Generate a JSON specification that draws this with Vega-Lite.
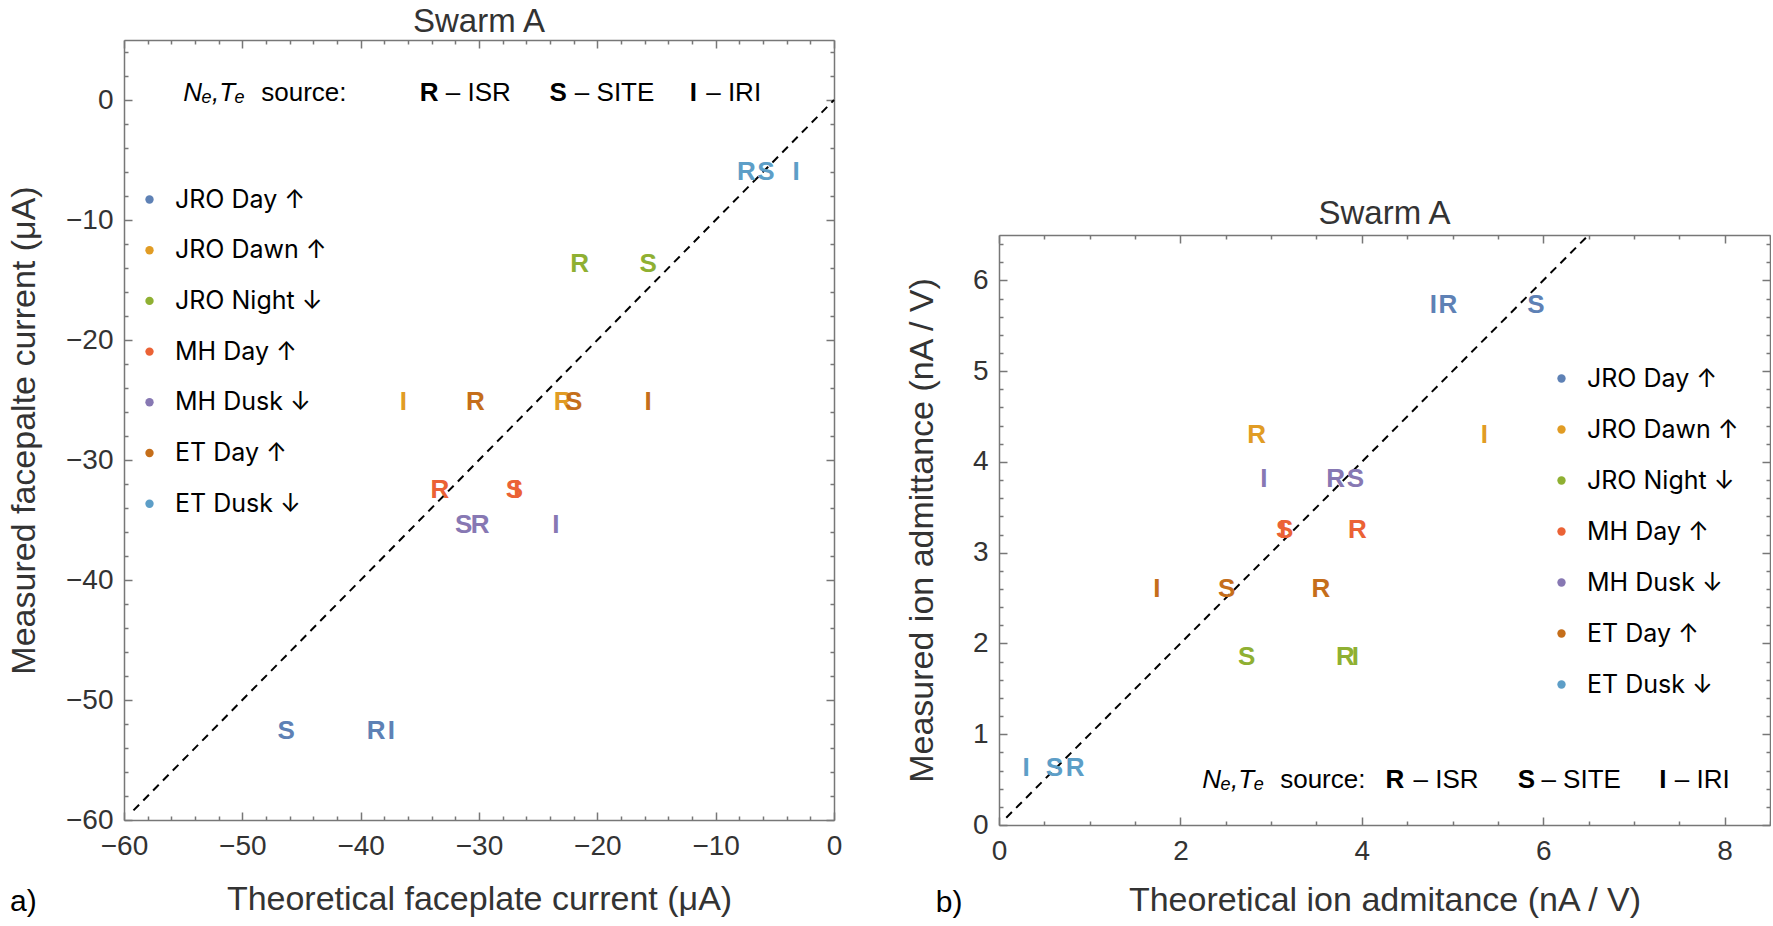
{
  "$schema": "https://vega.github.io/schema/vega-lite/v6.json",
  "background": "white",
  "padding": {"left": 7, "top": 6, "right": 0, "bottom": 0},
  "config": {
    "view": {"stroke": null},
    "axis": {"labelFont": "Liberation Sans", "titleFont": "Liberation Sans", "labelColor": "#333", "titleColor": "#333", "grid": false, "domainColor": "#777", "domainWidth": 1.5, "tickColor": "#777", "tickWidth": 1.5, "labelFontSize": 28, "titleFontSize": 34, "titleFontWeight": "normal", "labelOverlap": false, "labelFlush": false, "labelBound": false},
    "title": {"font": "Liberation Sans", "fontSize": 33, "fontWeight": "normal", "color": "#333", "offset": -1.3}
  },
  "datasets": {
    "faceplate": [
      {"series": "JRO Day ↑", "src": "R", "x": -38.7, "y": -52.6},
      {"series": "JRO Day ↑", "src": "S", "x": -46.3, "y": -52.6},
      {"series": "JRO Day ↑", "src": "I", "x": -37.4, "y": -52.6},
      {"series": "JRO Dawn ↑", "src": "R", "x": -22.9, "y": -25.2},
      {"series": "JRO Dawn ↑", "src": "I", "x": -36.4, "y": -25.2},
      {"series": "JRO Night ↓", "src": "R", "x": -21.5, "y": -13.7},
      {"series": "JRO Night ↓", "src": "S", "x": -15.7, "y": -13.7},
      {"series": "MH Day ↑", "src": "R", "x": -33.3, "y": -32.5},
      {"series": "MH Day ↑", "src": "S", "x": -27.0, "y": -32.5},
      {"series": "MH Day ↑", "src": "I", "x": -26.8, "y": -32.5},
      {"series": "MH Dusk ↓", "src": "R", "x": -29.9, "y": -35.4},
      {"series": "MH Dusk ↓", "src": "S", "x": -31.3, "y": -35.4},
      {"series": "MH Dusk ↓", "src": "I", "x": -23.5, "y": -35.4},
      {"series": "ET Day ↑", "src": "R", "x": -30.3, "y": -25.2},
      {"series": "ET Day ↑", "src": "S", "x": -22.0, "y": -25.2},
      {"series": "ET Day ↑", "src": "I", "x": -15.7, "y": -25.2},
      {"series": "ET Dusk ↓", "src": "R", "x": -7.4, "y": -6.0},
      {"series": "ET Dusk ↓", "src": "S", "x": -5.75, "y": -6.0},
      {"series": "ET Dusk ↓", "src": "I", "x": -3.2, "y": -6.0}
    ],
    "admittance": [
      {"series": "JRO Day ↑", "src": "R", "x": 4.95, "y": 5.73},
      {"series": "JRO Day ↑", "src": "S", "x": 5.92, "y": 5.73},
      {"series": "JRO Day ↑", "src": "I", "x": 4.79, "y": 5.73},
      {"series": "JRO Dawn ↑", "src": "R", "x": 2.84, "y": 4.30},
      {"series": "JRO Dawn ↑", "src": "I", "x": 5.35, "y": 4.30},
      {"series": "JRO Night ↓", "src": "R", "x": 3.82, "y": 1.85},
      {"series": "JRO Night ↓", "src": "S", "x": 2.73, "y": 1.85},
      {"series": "JRO Night ↓", "src": "I", "x": 3.93, "y": 1.85},
      {"series": "MH Day ↑", "src": "R", "x": 3.95, "y": 3.25},
      {"series": "MH Day ↑", "src": "S", "x": 3.15, "y": 3.25},
      {"series": "MH Day ↑", "src": "I", "x": 3.13, "y": 3.25},
      {"series": "MH Dusk ↓", "src": "R", "x": 3.71, "y": 3.81},
      {"series": "MH Dusk ↓", "src": "S", "x": 3.93, "y": 3.81},
      {"series": "MH Dusk ↓", "src": "I", "x": 2.92, "y": 3.81},
      {"series": "ET Day ↑", "src": "R", "x": 3.55, "y": 2.60},
      {"series": "ET Day ↑", "src": "S", "x": 2.51, "y": 2.60},
      {"series": "ET Day ↑", "src": "I", "x": 1.74, "y": 2.60},
      {"series": "ET Dusk ↓", "src": "R", "x": 0.84, "y": 0.63},
      {"series": "ET Dusk ↓", "src": "S", "x": 0.61, "y": 0.63},
      {"series": "ET Dusk ↓", "src": "I", "x": 0.30, "y": 0.63}
    ]
  },
  "hconcat": [
    {
      "width": 710,
      "height": 780,
      "title": {"text": "Swarm A"},
      "resolve": {"axis": {"x": "independent", "y": "independent"}},
      "layer": [
        {
          "data": {"values": [{"x": -59.2, "y": -59.2}, {"x": 0, "y": 0}]},
          "mark": {"type": "line", "color": "black", "strokeDash": [8, 6], "strokeWidth": 2},
          "encoding": {
            "x": {"field": "x", "type": "quantitative", "scale": {"domain": [-60, 0], "nice": false, "zero": false},
              "axis": {"orient": "bottom", "values": [-60,-58,-56,-54,-52,-50,-48,-46,-44,-42,-40,-38,-36,-34,-32,-30,-28,-26,-24,-22,-20,-18,-16,-14,-12,-10,-8,-6,-4,-2,0],
                "labelExpr": "datum.value % 10 === 0 ? format(datum.value, 'd') : ''",
                "tickSize": {"condition": {"test": "datum.value % 10 === 0", "value": -8}, "value": -4},
                "labelPadding": 20, "title": "Theoretical faceplate current (μA)", "titlePadding": 18}},
            "y": {"field": "y", "type": "quantitative", "scale": {"domain": [-60, 5], "nice": false, "zero": false},
              "axis": {"orient": "left", "values": [-60,-58,-56,-54,-52,-50,-48,-46,-44,-42,-40,-38,-36,-34,-32,-30,-28,-26,-24,-22,-20,-18,-16,-14,-12,-10,-8,-6,-4,-2,0,2,4],
                "labelExpr": "datum.value % 10 === 0 ? format(datum.value, 'd') : ''",
                "tickSize": {"condition": {"test": "datum.value % 10 === 0", "value": -8}, "value": -4},
                "labelPadding": 19, "title": "Measured facepalte current (μA)", "titlePadding": 24}}
          }
        },
        {
          "data": {"name": "faceplate"},
          "mark": {"type": "text", "font": "Liberation Sans", "fontWeight": "bold", "fontSize": 26},
          "encoding": {
            "x": {"field": "x", "type": "quantitative", "scale": {"domain": [-60, 0], "nice": false, "zero": false},
              "axis": {"orient": "top", "values": [-60,-58,-56,-54,-52,-50,-48,-46,-44,-42,-40,-38,-36,-34,-32,-30,-28,-26,-24,-22,-20,-18,-16,-14,-12,-10,-8,-6,-4,-2,0],
                "labels": false, "title": null,
                "tickSize": {"condition": {"test": "datum.value % 10 === 0", "value": -8}, "value": -4}}},
            "y": {"field": "y", "type": "quantitative", "scale": {"domain": [-60, 5], "nice": false, "zero": false},
              "axis": {"orient": "right", "values": [-60,-58,-56,-54,-52,-50,-48,-46,-44,-42,-40,-38,-36,-34,-32,-30,-28,-26,-24,-22,-20,-18,-16,-14,-12,-10,-8,-6,-4,-2,0,2,4],
                "labels": false, "title": null,
                "tickSize": {"condition": {"test": "datum.value % 10 === 0", "value": -8}, "value": -4}}},
            "text": {"field": "src", "type": "nominal"},
            "color": {"field": "series", "type": "nominal",
              "scale": {"domain": ["JRO Day ↑", "JRO Dawn ↑", "JRO Night ↓", "MH Day ↑", "MH Dusk ↓", "ET Day ↑", "ET Dusk ↓"],
                "range": ["#5E81B5", "#E19C24", "#8FB032", "#EB6235", "#8778B3", "#C56E1A", "#5D9EC7"]},
              "legend": {"orient": "none", "legendX": 13, "legendY": 147, "title": null, "padding": 0,
                "labelFont": "Inter", "labelFontSize": 25, "labelColor": "black", "labelLimit": 400,
                "symbolType": "circle", "symbolSize": 70, "symbolStrokeWidth": 0, "rowPadding": 24.7, "labelOffset": 13}}
          }
        },
        {
          "data": {"values": [{"t": "Nₑ,Tₑ", "x": -55.0, "y": 0.6}]},
          "mark": {"type": "text", "font": "Liberation Sans", "fontStyle": "italic", "fontSize": 26, "align": "left", "baseline": "middle", "color": "black"},
          "encoding": {
            "x": {"field": "x", "type": "quantitative", "scale": {"domain": [-60, 0], "nice": false, "zero": false}, "axis": null},
            "y": {"field": "y", "type": "quantitative", "scale": {"domain": [-60, 5], "nice": false, "zero": false}, "axis": null},
            "text": {"field": "t", "type": "nominal"}
          }
        },
        {
          "data": {"values": [
            {"t": "source:", "x": -48.4, "y": 0.6},
            {"t": "– ISR", "x": -32.8, "y": 0.6},
            {"t": "– SITE", "x": -21.9, "y": 0.6},
            {"t": "– IRI", "x": -10.8, "y": 0.6}
          ]},
          "mark": {"type": "text", "font": "Liberation Sans", "fontSize": 26, "align": "left", "baseline": "middle", "color": "black"},
          "encoding": {
            "x": {"field": "x", "type": "quantitative", "scale": {"domain": [-60, 0], "nice": false, "zero": false}, "axis": null},
            "y": {"field": "y", "type": "quantitative", "scale": {"domain": [-60, 5], "nice": false, "zero": false}, "axis": null},
            "text": {"field": "t", "type": "nominal"}
          }
        },
        {
          "data": {"values": [
            {"t": "R", "x": -35.0, "y": 0.6},
            {"t": "S", "x": -24.05, "y": 0.6},
            {"t": "I", "x": -12.2, "y": 0.6}
          ]},
          "mark": {"type": "text", "font": "Liberation Sans", "fontWeight": "bold", "fontSize": 26, "align": "left", "baseline": "middle", "color": "black"},
          "encoding": {
            "x": {"field": "x", "type": "quantitative", "scale": {"domain": [-60, 0], "nice": false, "zero": false}, "axis": null},
            "y": {"field": "y", "type": "quantitative", "scale": {"domain": [-60, 5], "nice": false, "zero": false}, "axis": null},
            "text": {"field": "t", "type": "nominal"}
          }
        },
        {
          "data": {"values": [{"t": "a)", "x": -68.5, "y": -66.8}]},
          "mark": {"type": "text", "font": "Liberation Sans", "fontSize": 30, "align": "center", "baseline": "middle", "color": "black"},
          "encoding": {
            "x": {"field": "x", "type": "quantitative", "scale": {"domain": [-60, 0], "nice": false, "zero": false}, "axis": null},
            "y": {"field": "y", "type": "quantitative", "scale": {"domain": [-60, 5], "nice": false, "zero": false}, "axis": null},
            "text": {"field": "t", "type": "nominal"}
          }
        }
      ]
    },
    {
      "spacing": 0,
      "vconcat": [
        {
          "width": 771,
          "height": 158,
          "data": {"values": [{}]},
          "mark": {"type": "text"}
        },
        {
          "width": 771,
          "height": 590,
          "title": {"text": "Swarm A"},
          "resolve": {"axis": {"x": "independent", "y": "independent"}},
          "layer": [
            {
              "data": {"values": [{"x": 0.08, "y": 0.08}, {"x": 6.5, "y": 6.5}]},
              "mark": {"type": "line", "color": "black", "strokeDash": [8, 6], "strokeWidth": 2},
              "encoding": {
                "x": {"field": "x", "type": "quantitative", "scale": {"domain": [0, 8.5], "nice": false, "zero": false},
                  "axis": {"orient": "bottom", "values": [0,0.5,1,1.5,2,2.5,3,3.5,4,4.5,5,5.5,6,6.5,7,7.5,8,8.5],
                    "labelExpr": "datum.value % 2 === 0 ? format(datum.value, 'd') : ''",
                    "tickSize": {"condition": {"test": "datum.value % 2 === 0", "value": -8}, "value": -4},
                    "labelPadding": 20, "title": "Theoretical ion admitance (nA / V)", "titlePadding": 14}},
                "y": {"field": "y", "type": "quantitative", "scale": {"domain": [0, 6.5], "nice": false, "zero": false},
                  "axis": {"orient": "left", "values": [0,0.2,0.4,0.6,0.8,1,1.2,1.4,1.6,1.8,2,2.2,2.4,2.6,2.8,3,3.2,3.4,3.6,3.8,4,4.2,4.4,4.6,4.8,5,5.2,5.4,5.6,5.8,6,6.2,6.4],
                    "labelExpr": "abs(datum.value - round(datum.value)) < 0.001 ? format(datum.value, 'd') : ''",
                    "tickSize": {"condition": {"test": "abs(datum.value - round(datum.value)) < 0.001", "value": -8}, "value": -4},
                    "labelPadding": 19, "title": "Measured ion admittance (nA / V)", "titlePadding": 33}}
              }
            },
            {
              "data": {"name": "admittance"},
              "mark": {"type": "text", "font": "Liberation Sans", "fontWeight": "bold", "fontSize": 26},
              "encoding": {
                "x": {"field": "x", "type": "quantitative", "scale": {"domain": [0, 8.5], "nice": false, "zero": false},
                  "axis": {"orient": "top", "values": [0,0.5,1,1.5,2,2.5,3,3.5,4,4.5,5,5.5,6,6.5,7,7.5,8,8.5],
                    "labels": false, "title": null,
                    "tickSize": {"condition": {"test": "datum.value % 2 === 0", "value": -8}, "value": -4}}},
                "y": {"field": "y", "type": "quantitative", "scale": {"domain": [0, 6.5], "nice": false, "zero": false},
                  "axis": {"orient": "right", "values": [0,0.2,0.4,0.6,0.8,1,1.2,1.4,1.6,1.8,2,2.2,2.4,2.6,2.8,3,3.2,3.4,3.6,3.8,4,4.2,4.4,4.6,4.8,5,5.2,5.4,5.6,5.8,6,6.2,6.4],
                    "labels": false, "title": null,
                    "tickSize": {"condition": {"test": "abs(datum.value - round(datum.value)) < 0.001", "value": -8}, "value": -4}}},
                "text": {"field": "src", "type": "nominal"},
                "color": {"field": "series", "type": "nominal",
                  "scale": {"domain": ["JRO Day ↑", "JRO Dawn ↑", "JRO Night ↓", "MH Day ↑", "MH Dusk ↓", "ET Day ↑", "ET Dusk ↓"],
                    "range": ["#5E81B5", "#E19C24", "#8FB032", "#EB6235", "#8778B3", "#C56E1A", "#5D9EC7"]},
                  "legend": {"orient": "none", "legendX": 550, "legendY": 326, "title": null, "padding": 0,
                    "labelFont": "Inter", "labelFontSize": 25, "labelColor": "black", "labelLimit": 400,
                    "symbolType": "circle", "symbolSize": 70, "symbolStrokeWidth": 0, "rowPadding": 25.0, "labelOffset": 13}}
              }
            },
            {
              "data": {"values": [{"t": "Nₑ,Tₑ", "x": 2.24, "y": 0.5}]},
              "mark": {"type": "text", "font": "Liberation Sans", "fontStyle": "italic", "fontSize": 26, "align": "left", "baseline": "middle", "color": "black"},
              "encoding": {
                "x": {"field": "x", "type": "quantitative", "scale": {"domain": [0, 8.5], "nice": false, "zero": false}, "axis": null},
                "y": {"field": "y", "type": "quantitative", "scale": {"domain": [0, 6.5], "nice": false, "zero": false}, "axis": null},
                "text": {"field": "t", "type": "nominal"}
              }
            },
            {
              "data": {"values": [
                {"t": "source:", "x": 3.10, "y": 0.5},
                {"t": "– ISR", "x": 4.57, "y": 0.5},
                {"t": "– SITE", "x": 5.98, "y": 0.5},
                {"t": "– IRI", "x": 7.45, "y": 0.5}
              ]},
              "mark": {"type": "text", "font": "Liberation Sans", "fontSize": 26, "align": "left", "baseline": "middle", "color": "black"},
              "encoding": {
                "x": {"field": "x", "type": "quantitative", "scale": {"domain": [0, 8.5], "nice": false, "zero": false}, "axis": null},
                "y": {"field": "y", "type": "quantitative", "scale": {"domain": [0, 6.5], "nice": false, "zero": false}, "axis": null},
                "text": {"field": "t", "type": "nominal"}
              }
            },
            {
              "data": {"values": [
                {"t": "R", "x": 4.26, "y": 0.5},
                {"t": "S", "x": 5.72, "y": 0.5},
                {"t": "I", "x": 7.28, "y": 0.5}
              ]},
              "mark": {"type": "text", "font": "Liberation Sans", "fontWeight": "bold", "fontSize": 26, "align": "left", "baseline": "middle", "color": "black"},
              "encoding": {
                "x": {"field": "x", "type": "quantitative", "scale": {"domain": [0, 8.5], "nice": false, "zero": false}, "axis": null},
                "y": {"field": "y", "type": "quantitative", "scale": {"domain": [0, 6.5], "nice": false, "zero": false}, "axis": null},
                "text": {"field": "t", "type": "nominal"}
              }
            },
            {
              "data": {"values": [{"t": "b)", "x": -0.55, "y": -0.86}]},
              "mark": {"type": "text", "font": "Liberation Sans", "fontSize": 30, "align": "center", "baseline": "middle", "color": "black"},
              "encoding": {
                "x": {"field": "x", "type": "quantitative", "scale": {"domain": [0, 8.5], "nice": false, "zero": false}, "axis": null},
                "y": {"field": "y", "type": "quantitative", "scale": {"domain": [0, 6.5], "nice": false, "zero": false}, "axis": null},
                "text": {"field": "t", "type": "nominal"}
              }
            }
          ]
        }
      ]
    }
  ],
  "spacing": 63,
  "resolve": {"scale": {"color": "independent"}, "legend": {"color": "independent"}}
}
